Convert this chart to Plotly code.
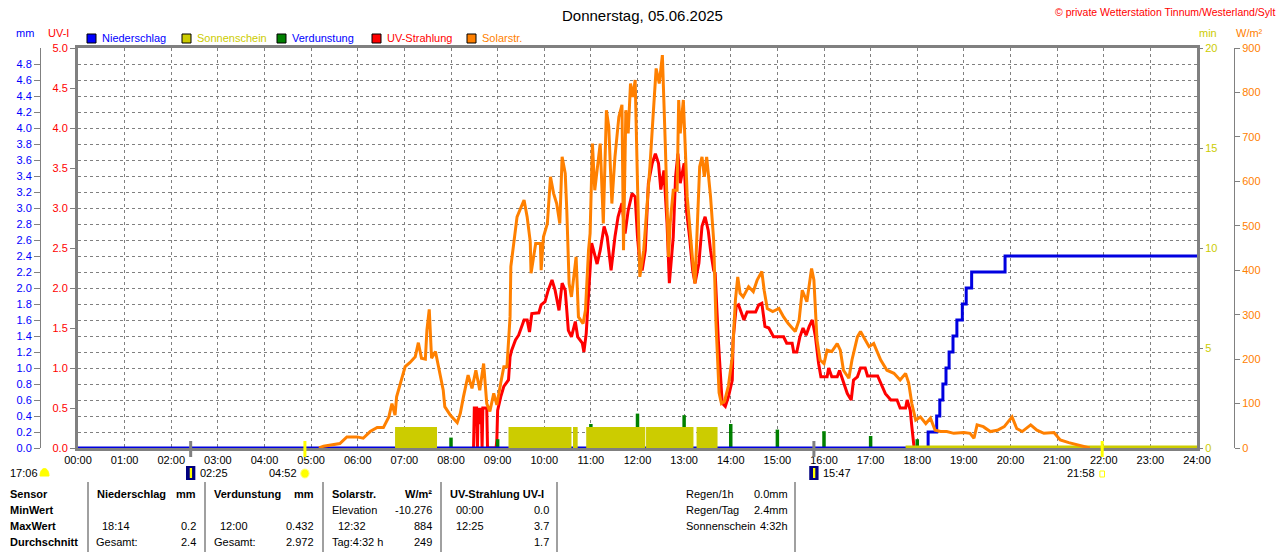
import plotly.graph_objects as go

# Wetterstation Tinnum - Tagesgrafik 05.06.2025

W, H = 1280, 552

hours = list(range(25))
hour_labels = ["%02d:00" % h for h in hours]

# Solarstrahlung W/m2 (vorher/nachher 0)
solar_t = ["05:10", "05:16", "05:37", "05:46", "05:59", "06:07", "06:16", "06:25", "06:33",
           "06:40", "06:44", "06:48", "06:50", "06:55", "07:01", "07:07", "07:14", "07:18", "07:22",
           "07:27", "07:29", "07:32", "07:35", "07:40", "07:44", "07:50", "07:52", "07:59", "08:08",
           "08:12", "08:16", "08:22", "08:27", "08:32", "08:37", "08:42", "08:46", "08:50", "08:55",
           "08:59", "09:04", "09:08", "09:12", "09:16", "09:17", "09:20", "09:25", "09:34", "09:38",
           "09:42", "09:43", "09:49", "09:55", "09:56", "09:59", "10:04", "10:08", "10:12", "10:16",
           "10:20", "10:23", "10:27", "10:29", "10:32", "10:35", "10:41", "10:44", "10:50", "10:53",
           "10:57", "10:59", "11:02", "11:05", "11:12", "11:16", "11:20", "11:23", "11:27", "11:31",
           "11:36", "11:40", "11:42", "11:45", "11:48", "11:51", "11:54", "11:57", "12:00", "12:03",
           "12:08", "12:13", "12:16", "12:20", "12:24", "12:28", "12:32", "12:36", "12:40", "12:42",
           "12:46", "12:51", "12:53", "12:55", "12:59", "13:04", "13:08", "13:12", "13:14", "13:20",
           "13:23", "13:26", "13:29", "13:34", "13:38", "13:41", "13:45", "13:48", "13:52", "13:57",
           "14:02", "14:06", "14:09", "14:12", "14:16", "14:23", "14:29", "14:34", "14:40", "14:43",
           "14:47", "14:54", "15:02", "15:08", "15:14", "15:23", "15:28", "15:32", "15:38", "15:44",
           "15:47", "15:51", "15:55", "16:00", "16:04", "16:10", "16:17", "16:21", "16:25", "16:32",
           "16:36", "16:43", "16:47", "16:53", "16:58", "17:04", "17:13", "17:21", "17:30", "17:38",
           "17:45", "17:49", "17:53", "17:58", "18:04", "18:11", "18:17", "18:23", "18:30", "18:38",
           "18:47", "19:00", "19:08", "19:13", "19:17", "19:25", "19:34", "19:43", "19:52", "20:02",
           "20:08", "20:15", "20:26", "20:34", "20:43", "20:56", "21:04", "21:15", "21:30", "21:42"]
solar_v = [0, 4, 10, 25, 25, 22, 37, 46, 46,
           70, 100, 74, 115, 146, 183, 192, 205, 237, 202,
           200, 265, 312, 202, 217, 179, 130, 93, 74, 57,
           78, 115, 164, 134, 175, 130, 190, 100, 82, 123,
           97, 146, 183, 183, 295, 408, 453, 520, 558, 520,
           464, 393, 460, 460, 400, 475, 505, 610, 573, 550,
           505, 655, 618, 535, 370, 340, 430, 295, 280, 310,
           445, 483, 685, 580, 685, 505, 760, 723, 550, 655,
           745, 772, 445, 760, 708, 820, 790, 828, 595, 385,
           445, 558, 633, 745, 854, 820, 884, 670, 430, 505,
           580, 580, 783, 708, 783, 565, 475, 400, 370, 633,
           655, 610, 655, 565, 468, 281, 124, 100, 105, 140,
           205, 333, 385, 348, 340, 363, 352, 378, 397, 355,
           314, 307, 314, 295, 280, 262, 288, 355, 329, 404,
           378, 243, 198, 190, 220, 217, 235, 220, 175, 157,
           198, 250, 262, 243, 228, 235, 198, 175, 168, 153,
           168, 146, 100, 63, 70, 55, 67, 40, 37, 37,
           33, 35, 33, 22, 52, 48, 37, 40, 48, 70,
           44, 37, 52, 40, 33, 35, 18, 12, 6, 0]

# UV-Index (vorher/nachher 0)
uv_t = ["08:29", "08:30", "08:33", "08:34", "08:35", "08:37", "08:39", "08:40", "08:41",
        "08:46", "08:47", "08:58", "08:59", "09:00", "09:04", "09:08", "09:14", "09:16", "09:18",
        "09:23", "09:27", "09:34", "09:38", "09:41", "09:44", "09:53", "09:56", "10:01", "10:05",
        "10:10", "10:14", "10:19", "10:23", "10:27", "10:31", "10:35", "10:40", "10:43", "10:49",
        "10:51", "10:54", "10:57", "11:01", "11:04", "11:08", "11:12", "11:17", "11:21", "11:26",
        "11:31", "11:35", "11:40", "11:44", "11:48", "11:53", "11:57", "12:00", "12:03", "12:06",
        "12:10", "12:14", "12:19", "12:23", "12:27", "12:30", "12:34", "12:38", "12:41", "12:46",
        "12:49", "12:52", "12:55", "13:00", "13:03", "13:07", "13:11", "13:14", "13:19", "13:23",
        "13:27", "13:31", "13:34", "13:38", "13:40", "13:44", "13:49", "13:53", "13:57", "14:02",
        "14:03", "14:07", "14:10", "14:14", "14:17", "14:21", "14:32", "14:36", "14:40", "14:44",
        "14:49", "14:55", "15:08", "15:12", "15:19", "15:21", "15:25", "15:29", "15:33", "15:37",
        "15:41", "15:45", "15:49", "15:53", "15:56", "16:04", "16:06", "16:10", "16:17", "16:20",
        "16:24", "16:30", "16:35", "16:38", "16:43", "16:47", "16:53", "16:56", "17:09", "17:13",
        "17:19", "17:26", "17:34", "17:38", "17:45", "17:47", "17:51", "17:53", "17:56"]
uv_v = [0, 0.5, 0.5, 0, 0.5, 0.3, 0.5, 0, 0.5,
        0.5, 0, 0, 0.1, 0.47, 0.64, 0.77, 0.85, 1.14, 1.22,
        1.35, 1.41, 1.6, 1.6, 1.45, 1.68, 1.69, 1.79, 1.83, 1.97,
        2.1, 1.97, 1.72, 2.06, 1.97, 1.47, 1.39, 1.58, 1.39, 1.31,
        1.2, 1.43, 1.93, 2.56, 2.45, 2.3, 2.47, 2.77, 2.64, 2.22,
        2.64, 2.89, 3.06, 2.68, 2.97, 3.18, 3.14, 2.64, 2.31, 2.22,
        2.47, 3.31, 3.56, 3.68, 3.56, 3.23, 3.47, 2.81, 2.06, 2.64,
        3.39, 3.68, 3.31, 3.56, 2.97, 2.64, 2.22, 2.06, 2.31, 2.77,
        2.89, 2.72, 2.47, 2.22, 2.18, 1.35, 0.56, 0.52, 0.64, 0.85,
        1.35, 1.77, 1.79, 1.68, 1.6, 1.7, 1.7, 1.79, 1.81, 1.52,
        1.5, 1.39, 1.39, 1.31, 1.31, 1.2, 1.2, 1.39, 1.5, 1.41,
        1.52, 1.6, 1.39, 1.06, 0.89, 0.89, 1.0, 0.89, 0.89, 0.97,
        0.85, 0.68, 0.6, 0.85, 0.89, 1.0, 1.0, 0.9, 0.9, 0.81,
        0.68, 0.6, 0.6, 0.5, 0.5, 0.6, 0.47, 0.27, 0]

# Niederschlag kumuliert mm
rain_t = ["00:00", "18:14", "18:25", "18:29", "18:33", "18:37", "18:41", "18:46", "18:51", "18:58",
          "19:03", "19:10", "19:53", "24:00"]
rain_v = [0, 0.2, 0.4, 0.6, 0.8, 1.0, 1.2, 1.4, 1.6, 1.8, 2.0, 2.2, 2.4, 2.4]

# Sonnenschein (min) - Intervalle
sun_start = ["06:48", "09:14", "10:37", "10:54", "12:11", "13:16"]
sun_end = ["07:42", "10:35", "10:43", "12:10", "13:12", "13:43"]
sun_val = 1.05
sun_zero = ["17:45", "24:00"]

# Verdunstung je Stunde mm
evap_h = list(range(1, 24))
evap_v = [0.01, 0.01, 0.01, 0.01, 0.01, 0.01, 0.09, 0.13, 0.11, 0.26, 0.30, 0.43,
          0.41, 0.30, 0.23, 0.21, 0.15, 0.11, 0.01, 0.01, 0.01, 0.01, 0.01]

# Mond / Sonne Auf- und Untergang
event_t = ["02:25", "04:52", "15:47", "21:58"]
event_kind = ["moon", "sun", "moon", "sunset"]

uv_ticks = [i * 0.5 for i in range(11)]
mm_ticks = [i * 0.2 for i in range(25)]
min_ticks = [0, 5, 10, 15, 20]
wm_ticks = list(range(0, 1000, 100))

# Tabelle
row_y = [494, 510, 526, 542]
sensor_col = ["Sensor", "MinWert", "MaxWert", "Durchschnitt"]
rain_tab = [("Niederschlag", "mm"), ("", ""), ("18:14", "0.2"), ("Gesamt:", "2.4")]
evap_tab = [("Verdunstung", "mm"), ("", ""), ("12:00", "0.432"), ("Gesamt:", "2.972")]
solar_tab = [("Solarstr.", "W/m²"), ("Elevation", "-10.276"), ("12:32", "884"), ("Tag:4:32 h", "249")]
uv_tab = [("UV-Strahlung UV-I", ""), ("00:00", "0.0"), ("12:25", "3.7"), ("", "1.7")]
info_tab = [("Regen/1h", "0.0mm"), ("Regen/Tag", "2.4mm"), ("Sonnenschein", "4:32h")]


def hrs(t):
    h, m = t.split(":")
    return int(h) + int(m) / 60


def px(x):
    return x / W


def py(y):
    return 1 - y / H


BLUE = "#0000FF"
RED = "#FF0000"
ORANGE = "#FF8000"
GREEN = "#008000"
SUNC = "#CCCC00"
GRAY = "#808080"
FONT = "Liberation Sans"

fig = go.Figure()

sx0 = [hrs(t) for t in sun_start]
sx1 = [hrs(t) for t in sun_end]
fig.add_trace(go.Bar(x=[(a + b) / 2 for a, b in zip(sx0, sx1)], y=[sun_val] * len(sx0),
                     width=[b - a for a, b in zip(sx0, sx1)], yaxis="y3",
                     marker=dict(color=SUNC, line=dict(width=0))))
fig.add_trace(go.Scatter(x=[hrs(t) for t in sun_zero], y=[0, 0], yaxis="y3", mode="lines",
                         line=dict(color=SUNC, width=5)))
fig.add_trace(go.Bar(x=evap_h, y=evap_v, width=0.075, yaxis="y2",
                     marker=dict(color=GREEN, line=dict(width=0))))
fig.add_trace(go.Scatter(x=[hrs(t) for t in sun_zero], y=[0, 0], yaxis="y2", mode="lines",
                         line=dict(color=GREEN, width=1.5)))
fig.add_trace(go.Scatter(x=[hrs(t) for t in solar_t], y=solar_v, yaxis="y4", mode="lines",
                         line=dict(color=ORANGE, width=3)))
fig.add_trace(go.Scatter(x=[hrs(t) for t in uv_t], y=uv_v, yaxis="y", mode="lines",
                         line=dict(color=RED, width=3)))
fig.add_trace(go.Scatter(x=[hrs(t) for t in rain_t], y=rain_v, yaxis="y2", mode="lines",
                         line=dict(color="#0000E0", width=3, shape="hv")))

tick_font = dict(family=FONT, size=11)
fig.update_layout(
    width=W, height=H, template="none", showlegend=False,
    margin=dict(l=0, r=0, t=0, b=0, pad=0),
    paper_bgcolor="white", plot_bgcolor="white", barmode="overlay",
    font=dict(family=FONT, size=11, color="black"),
    xaxis=dict(domain=[px(78), px(1197)], range=[0, 24], tickvals=hours, ticktext=hour_labels,
               showgrid=True, gridcolor=GRAY, griddash="3px,3px", gridwidth=1,
               showline=True, linecolor=GRAY, linewidth=3, mirror=True, zeroline=False,
               ticks="", tickfont=tick_font, automargin=False, layer="below traces"),
    yaxis=dict(domain=[py(448), py(48)], range=[0, 5], tickvals=uv_ticks,
               ticktext=["%.1f" % v for v in uv_ticks], tickfont=dict(family=FONT, size=11, color=RED),
               ticks="outside", ticklen=5, tickcolor=GRAY, showgrid=False, zeroline=False,
               showline=True, linecolor=GRAY, linewidth=3, mirror=True, automargin=False),
    yaxis2=dict(overlaying="y", anchor="free", position=px(40), side="left", range=[0, 5],
                tickvals=mm_ticks, ticktext=["%.1f" % v for v in mm_ticks],
                tickfont=dict(family=FONT, size=11, color=BLUE), ticks="outside", ticklen=6,
                tickcolor=GRAY, showgrid=True, gridcolor=GRAY, griddash="3px,3px", zeroline=False,
                showline=True, linecolor=GRAY, linewidth=1, automargin=False),
    yaxis3=dict(overlaying="y", anchor="x", side="right", range=[0, 20], tickvals=min_ticks,
                tickfont=dict(family=FONT, size=11, color=SUNC), ticks="outside", ticklen=5,
                tickcolor=GRAY, showgrid=False, zeroline=False, showline=False, automargin=False),
    yaxis4=dict(overlaying="y", anchor="free", position=px(1234), side="right", range=[0, 900],
                tickvals=wm_ticks, tickfont=dict(family=FONT, size=11, color=ORANGE),
                ticks="outside", ticklen=5, tickcolor=GRAY, showgrid=False, zeroline=False,
                showline=True, linecolor=GRAY, linewidth=1, automargin=False),
)

ann = []
shapes = []


def text(x, y, s, color="black", size=11, anchor="left", xref="paper", xshift=0):
    ann.append(dict(x=px(x) if xref == "paper" else x, y=py(y), xref=xref, yref="paper", text=s,
                    showarrow=False, xanchor=anchor, yanchor="middle", xshift=xshift,
                    font=dict(family=FONT, size=size, color=color)))


# Kopf
text(642, 15, "Donnerstag, 05.06.2025", size=15, anchor="center")
text(1277, 12, "© private Wetterstation Tinnum/Westerland/Sylt", color=RED, size=10.5, anchor="right")
text(14, 33, "mm", color=BLUE)
text(46, 33, "UV-I", color=RED)
text(1197, 33, "min", color=SUNC)
text(1234, 33, "W/m²", color=ORANGE)

legend = [("Niederschlag", BLUE, BLUE, 87), ("Sonnenschein", SUNC, SUNC, 182),
          ("Verdunstung", GREEN, BLUE, 277), ("UV-Strahlung", RED, RED, 372), ("Solarstr.", ORANGE, ORANGE, 467)]
for name, box, tc, lx in legend:
    shapes.append(dict(type="rect", xref="paper", yref="paper", x0=px(lx), x1=px(lx + 9),
                       y0=py(43), y1=py(34), fillcolor=box, line=dict(color="black", width=1)))
    text(lx + 13, 38, name, color=tc)

# Auf-/Untergang
text(8, 473, "17:06")
shapes.append(dict(type="path", xref="paper", yref="paper",
                   path="M %f %f C %f %f %f %f %f %f Z" % (px(40), py(476), px(40), py(466),
                                                          px(49), py(466), px(49), py(476)),
                   fillcolor="#FFFF00", line=dict(color="#FFFF00", width=1)))
for t, k in zip(event_t, event_kind):
    xv = hrs(t)
    col = GRAY if k == "moon" else "#FFFF00"
    shapes.append(dict(type="line", xref="x", yref="paper", x0=xv, x1=xv, y0=py(457), y1=py(441),
                       line=dict(color=col, width=3)))
    if k == "moon":
        shapes.append(dict(type="rect", xref="x", yref="paper", x0=xv - 0.1, x1=xv + 0.1,
                           y0=py(480), y1=py(466), fillcolor="#000080", line=dict(width=0)))
        shapes.append(dict(type="rect", xref="x", yref="paper", x0=xv - 0.02, x1=xv + 0.03,
                           y0=py(478), y1=py(468), fillcolor="#FFFF00", line=dict(width=0)))
        text(xv, 473, t, anchor="left", xref="x", xshift=7)
    elif k == "sun":
        shapes.append(dict(type="circle", xref="x", yref="paper", x0=xv - 0.09, x1=xv + 0.09,
                           y0=py(478), y1=py(469), fillcolor="#FFFF00", line=dict(color="#FFFF80", width=1)))
        text(xv, 473, t, anchor="right", xref="x", xshift=-6)
    else:
        shapes.append(dict(type="rect", xref="x", yref="paper", x0=xv - 0.05, x1=xv + 0.05,
                           y0=py(477), y1=py(471), fillcolor="white", line=dict(color="#FFFF00", width=1)))
        text(xv, 473, t, anchor="right", xref="x", xshift=-5)

# Tabelle
for x in [88, 205, 323, 441, 557, 795]:
    shapes.append(dict(type="line", xref="paper", yref="paper", x0=px(x), x1=px(x),
                       y0=py(482), y1=py(552), line=dict(color=GRAY, width=1.5)))
for y, s in zip(row_y, sensor_col):
    text(8, y, "<b>%s</b>" % s)

blocks = [(rain_tab, [95, 95, 100, 94], 198), (evap_tab, [212, 212, 218, 212], 316),
          (solar_tab, [330, 330, 336, 330], 434), (uv_tab, [448, 454, 454, 454], 551)]
for tab, lefts, right in blocks:
    for i, (a, b) in enumerate(tab):
        fa = "<b>%s</b>" % a if i == 0 and a else a
        fb = "<b>%s</b>" % b if i == 0 and b else b
        if fa:
            text(lefts[i], row_y[i], fa)
        if fb:
            text(right, row_y[i], fb, anchor="right")
for i, (a, b) in enumerate(info_tab):
    text(684, row_y[i], a)
    text(790, row_y[i], b, anchor="right")

fig.update_layout(annotations=ann, shapes=shapes)
fig.write_html("out.html", config={"displayModeBar": False},
               post_script="document.body.style.margin='0';document.body.style.overflow='hidden';")
